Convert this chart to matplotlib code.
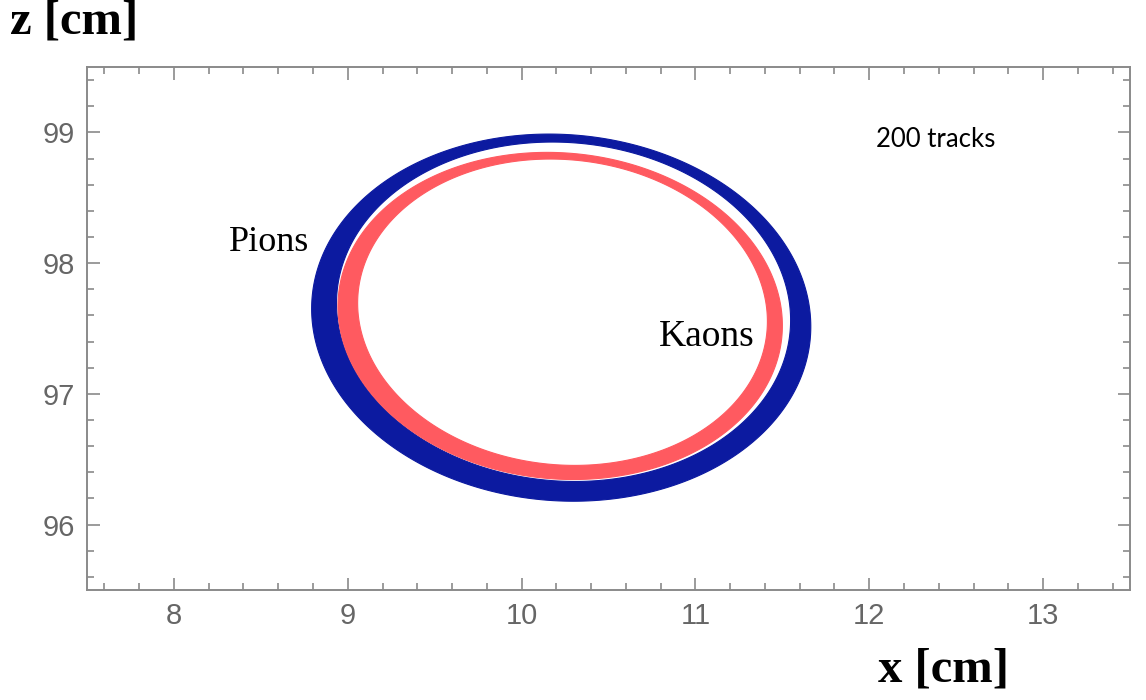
import numpy as np
import matplotlib
matplotlib.use("Agg")
import matplotlib.pyplot as plt
from matplotlib.path import Path
from matplotlib.patches import PathPatch
from matplotlib.ticker import MultipleLocator

# ---- data (ring outlines in cm) ----
ring_names = ["Pions", "Kaons"]
ring_colors = ["#0C1AA0", "#FF5A60"]
outer_cx = [10.228, 10.222]
outer_cz = [97.583, 97.596]
outer_a = [1.434, 1.276]
outer_b = [1.404, 1.251]
inner_cx = [10.2415, 10.2355]
inner_cz = [97.628, 97.6245]
inner_a = [1.3045, 1.1765]
inner_b = [1.298, 1.1715]
ring_shear = [-0.05, -0.06]

x_ticks = [8, 9, 10, 11, 12, 13]
z_ticks = [96, 97, 98, 99]
x_limits = [7.5, 13.5]
z_limits = [95.5, 99.5]

label_pos_x = [8.314, 10.791]
label_pos_z = [98.093, 97.366]
label_sizes = [26, 27]
note_text = "200 tracks"
note_x, note_z = 12.04, 98.887

fig = plt.figure(figsize=(11.46, 7.0), dpi=100)
ax = fig.add_axes([87/1146, 110/700, (1130-87)/1146, (590-67)/700])

t = np.linspace(0, 2*np.pi, 721)

def outline(cx, cz, a, b, k):
    z = cz + b*np.sin(t)
    x = cx + a*np.cos(t) + k*(z - cz)
    return np.column_stack([x, z])

for i in range(len(ring_names)):
    out = outline(outer_cx[i], outer_cz[i], outer_a[i], outer_b[i], ring_shear[i])
    inn = outline(inner_cx[i], inner_cz[i], inner_a[i], inner_b[i], ring_shear[i])[::-1]
    path = Path.make_compound_path(Path(out), Path(inn))
    patch = PathPatch(path, facecolor=ring_colors[i], edgecolor=ring_colors[i],
                      linewidth=0.8, zorder=2 + i)
    ax.add_patch(patch)

ax.set_xlim(*x_limits)
ax.set_ylim(*z_limits)
ax.set_xticks(x_ticks)
ax.set_yticks(z_ticks)
ax.xaxis.set_minor_locator(MultipleLocator(0.2))
ax.yaxis.set_minor_locator(MultipleLocator(0.2))

spine_col = "#8a8a8a"
for s in ax.spines.values():
    s.set_color(spine_col)
    s.set_linewidth(1.4)
ax.tick_params(which="both", direction="in", top=True, right=True,
               color=spine_col, width=1.2)
ax.tick_params(which="major", length=9, pad=9, labelsize=21, labelcolor="#666666")
ax.tick_params(which="minor", length=5)
for lab in ax.get_xticklabels() + ax.get_yticklabels():
    lab.set_family("Liberation Sans")

serif = "Liberation Serif"
for i in range(len(ring_names)):
    ax.text(label_pos_x[i], label_pos_z[i], ring_names[i], family=serif,
            fontsize=label_sizes[i], color="black", ha="left", va="baseline", zorder=5)
ax.text(note_x, note_z, note_text, family="Lato", fontsize=18.5,
        color="black", ha="left", va="baseline")

fig.text(10/1146, 1 - 34/700, "z [cm]", family=serif, fontweight="bold",
         fontsize=35, ha="left", va="baseline")
fig.text(878/1146, 18/700, "x [cm]", family=serif, fontweight="bold",
         fontsize=35, ha="left", va="baseline")

fig.savefig("out.png", dpi=100)
